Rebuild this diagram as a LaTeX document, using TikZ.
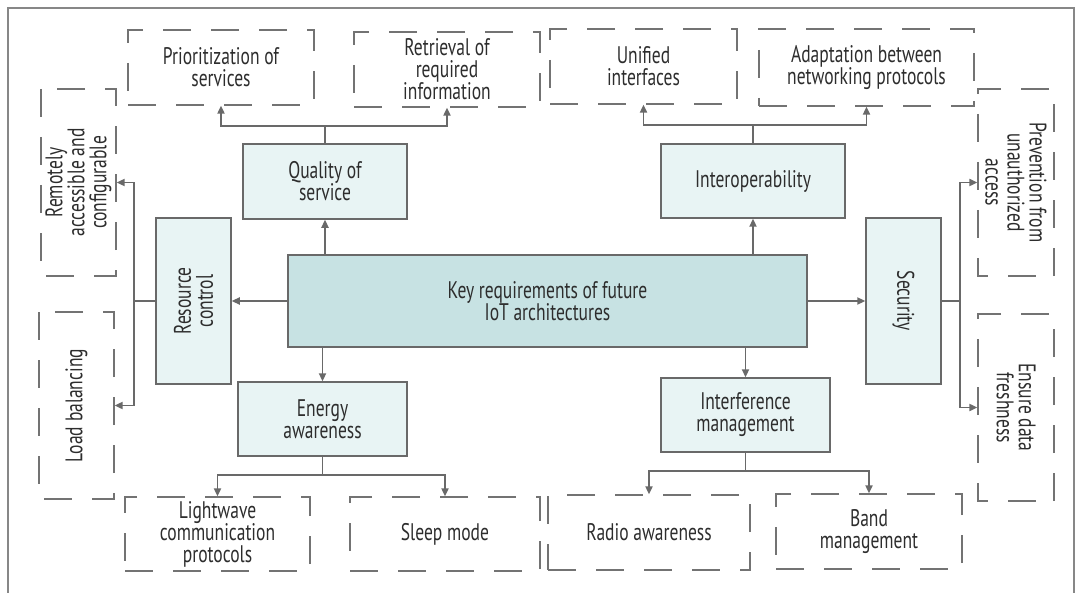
\documentclass[tikz,border=0pt]{standalone}
\usepackage{fontspec}
\setmainfont{PT Sans}[FakeStretch=0.73]
\usetikzlibrary{
    arrows.meta,
    positioning,
    calc
}
\definecolor{linegray}{RGB}{105, 105, 105}
\definecolor{dashgray}{RGB}{115, 115, 115}
\definecolor{framegray}{RGB}{135, 135, 135}
\definecolor{keyfill}{RGB}{199, 226, 227}
\definecolor{reqfill}{RGB}{232, 244, 244}
\definecolor{txtgray}{RGB}{45, 45, 45}
\setlength{\lineskiplimit}{-5pt}

\begin{document}
\begin{tikzpicture}[
        x=0.5pt, y=-0.5pt,
        every node/.style={align=center, inner sep=0pt, text=txtgray,
            font=\fontsize{12}{11}\selectfont},
        keyreq/.style={rectangle, draw=linegray, fill=keyfill, line width=0.75pt},
        req/.style={rectangle, draw=linegray, fill=reqfill, line width=0.75pt},
        need/.style={rectangle, draw=dashgray, line width=0.7pt, dash pattern=on 14pt off 10pt},
        arrow/.style={-{Triangle[length=4pt, width=3.6pt]}, draw=linegray, line width=0.75pt},
        link/.style={draw=linegray, line width=0.75pt}
    ]
        \useasboundingbox (0,0) rectangle (1080,593);
        \draw[framegray, line width=1pt] (8,593) -- (8,8) -- (1074,8) -- (1074,593);

        % Centre
        \node[keyreq, minimum width=259.5pt, minimum height=46pt] (key) at (547.5,301) {Key requirements of future\\IoT architectures};

        % Requirements
        \node[req, minimum width=82pt, minimum height=37.5pt] (qos) at (325,181.5) {Quality of\\service};
        \node[req, minimum width=92pt, minimum height=37pt] (interop) at (753,181) {Interoperability};
        \node[req, rotate=90, minimum width=83pt, minimum height=37.5pt] (resctrl) at (193.5,301) {Resource\\control};
        \node[req, rotate=-90, minimum width=83pt, minimum height=37.5pt] (security) at (903.5,301) {Security};
        \node[req, minimum width=84.5pt, minimum height=37pt] (energy) at (322.5,419) {Energy\\awareness};
        \node[req, minimum width=84.5pt, minimum height=37pt] (interf) at (745.5,415) {Interference\\management};

        % Top
        \node[need, minimum width=93pt, minimum height=37.5pt] (prio) at (221,67.5) {Prioritization of\\services};
        \node[need, minimum width=93pt, minimum height=37.5pt] (retr) at (447,69.5) {Retrieval of\\required\\information};
        \node[need, minimum width=93.5pt, minimum height=37.5pt] (unified) at (643.5,66.5) {Unified\\interfaces};
        \node[need, minimum width=107.5pt, minimum height=38.5pt] (adapt) at (866.5,67.5) {Adaptation between\\networking protocols};

        % Sides
        \node[need, rotate=90, minimum width=93.5pt, minimum height=37.5pt] (remote) at (78.5,182.5) {Remotely\\accessible and\\configurable};
        \node[need, rotate=90, minimum width=93.5pt, minimum height=37.5pt] (load) at (76.5,405.5) {Load balancing};
        \node[need, rotate=-90, minimum width=93.5pt, minimum height=38pt] (prevent) at (1016,182.5) {Prevention from\\unauthorized\\access};
        \node[need, rotate=-90, minimum width=93.5pt, minimum height=38pt] (fresh) at (1016,407.5) {Ensure data\\freshness};

        % Bottom
        \node[need, minimum width=92.5pt, minimum height=37pt] (light) at (217.5,534) {Lightwave\\communication\\protocols};
        \node[need, minimum width=95pt, minimum height=37pt] (sleep) at (445,534) {Sleep mode};
        \node[need, minimum width=101pt, minimum height=37.5pt] (radio) at (649,532.5) {Radio awareness};
        \node[need, minimum width=93pt, minimum height=37.5pt] (band) at (869,531.5) {Band\\management};

        % Forks
        \coordinate (qosfork) at (325,126);
        \coordinate (interopfork) at (753,125);
        \coordinate (resfork) at (134,301);
        \coordinate (secfork) at (960,301);
        \coordinate (energyfork) at (322.5,475);
        \coordinate (interffork) at (745.5,471);

        % Arrows
        \draw[arrow] (qos |- key.north) -- (qos.south);
        \draw[arrow] (interop |- key.north) -- (interop.south);
        \draw[arrow] (key.west) -- (resctrl.south);
        \draw[arrow] (key.east) -- (security.south);
        \draw[arrow] (energy |- key.south) -- (energy.north);
        \draw[arrow] (interf |- key.south) -- (interf.north);

        \draw[link] (qos.north) -- (qosfork);
        \draw[arrow] (qosfork) -| (prio.south);
        \draw[arrow] (qosfork) -| (retr.south);
        \draw[link] (interop.north) -- (interopfork);
        \draw[arrow] (interopfork) -| (unified.south);
        \draw[arrow] (interopfork) -| (adapt.south);
        \draw[link] (resctrl.north) -- (resfork);
        \draw[arrow] (resfork) |- (remote.south);
        \draw[arrow] (resfork) |- (load.south);
        \draw[link] (security.north) -- (secfork);
        \draw[arrow] (secfork) |- (prevent.south);
        \draw[arrow] (secfork) |- (fresh.south);
        \draw[link] (energy.south) -- (energyfork);
        \draw[arrow] (energyfork) -| (light.north);
        \draw[arrow] (energyfork) -| (sleep.north);
        \draw[link] (interf.south) -- (interffork);
        \draw[arrow] (interffork) -| (radio.north);
        \draw[arrow] (interffork) -| (band.north);
    \end{tikzpicture}
\end{document}
